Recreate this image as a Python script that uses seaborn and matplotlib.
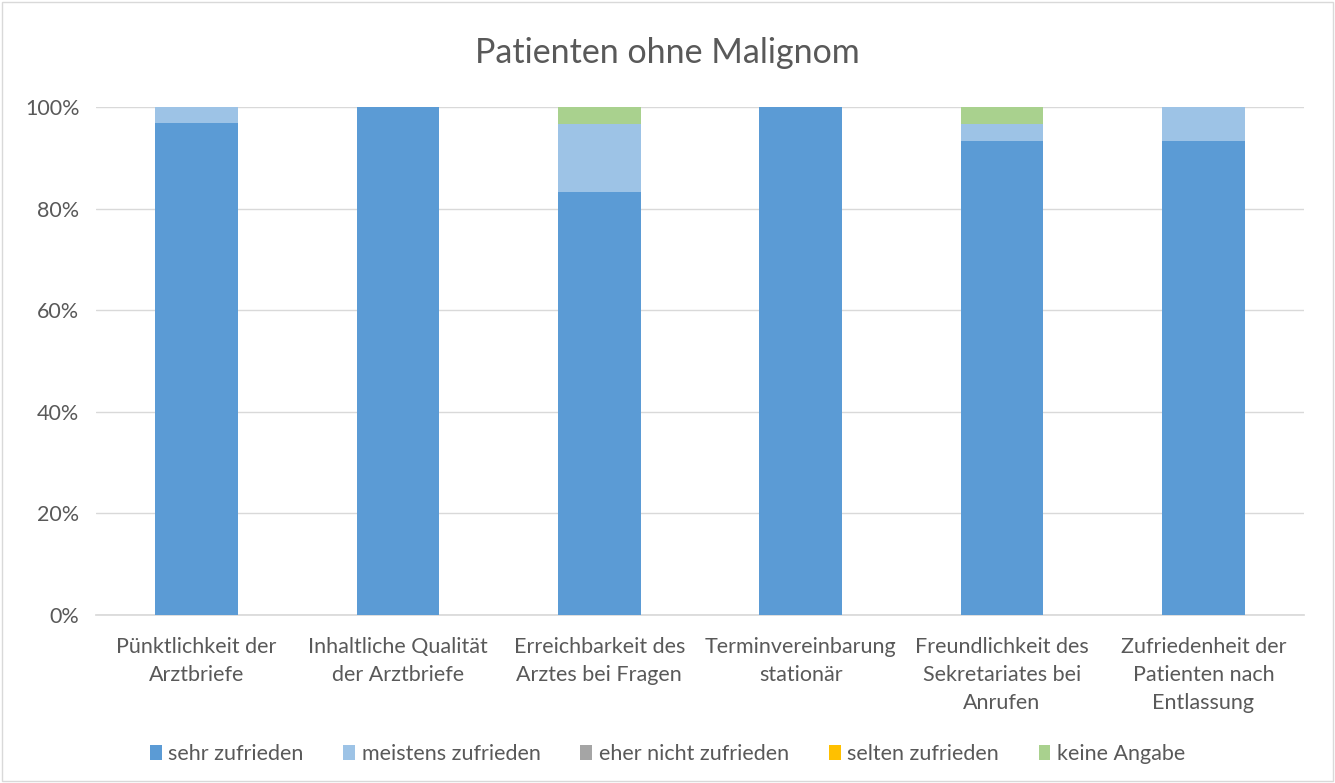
import numpy as np
import pandas as pd
import seaborn as sns
import matplotlib.pyplot as plt
from matplotlib.patches import Patch, Rectangle

categories = [
    "Pünktlichkeit der\nArztbriefe",
    "Inhaltliche Qualität\nder Arztbriefe",
    "Erreichbarkeit des\nArztes bei Fragen",
    "Terminvereinbarung\nstationär",
    "Freundlichkeit des\nSekretariates bei\nAnrufen",
    "Zufriedenheit der\nPatienten nach\nEntlassung",
]
series_names = ["sehr zufrieden", "meistens zufrieden", "eher nicht zufrieden",
                "selten zufrieden", "keine Angabe"]
sehr = [96.8, 100.0, 83.3, 100.0, 93.3, 93.3]
meistens = [3.2, 0.0, 13.4, 0.0, 3.4, 6.7]
eher_nicht = [0.0, 0.0, 0.0, 0.0, 0.0, 0.0]
selten = [0.0, 0.0, 0.0, 0.0, 0.0, 0.0]
keine = [0.0, 0.0, 3.3, 0.0, 3.3, 0.0]
colors = ["#5B9BD5", "#9DC3E6", "#A5A5A5", "#FFC000", "#A9D18E"]

sns.set_theme(style="white")
plt.rcParams['font.family'] = ['Lato', 'DejaVu Sans']
text_color = "#595959"

fig = plt.figure(figsize=(13.35, 7.83), dpi=100)
ax = fig.add_axes([96/1335, 1-615/783, (1304-96)/1335, (615-107)/783])

values = np.array([sehr, meistens, eher_nicht, selten, keine])
cum = np.cumsum(values, axis=0)

# draw cumulative totals from top down so each layer covers the next
for i in range(len(series_names) - 1, -1, -1):
    df = pd.DataFrame({"cat": categories, "val": cum[i]})
    sns.barplot(data=df, x="cat", y="val", order=categories, color=colors[i],
                saturation=1, width=0.41, linewidth=0, ax=ax, zorder=3)

ax.set_ylim(0, 100)
ax.set_xlim(-0.5, len(categories) - 0.5)
ax.set_yticks([0, 20, 40, 60, 80, 100])
ax.set_yticklabels([f"{v}%" for v in [0, 20, 40, 60, 80, 100]])
ax.grid(axis="y", color="#D9D9D9", linewidth=1, zorder=0)
ax.set_axisbelow(True)
for s in ["top", "right", "left"]:
    ax.spines[s].set_visible(False)
ax.spines["bottom"].set_color("#D9D9D9")
ax.set_xlabel("")
ax.set_ylabel("")
ax.tick_params(axis="y", length=0, pad=12, labelsize=15.5, labelcolor=text_color)
ax.tick_params(axis="x", length=0, pad=15.5, labelsize=15.5, labelcolor=text_color)
for lab in ax.get_xticklabels():
    lab.set_linespacing(1.5)
    lab.set_verticalalignment("top")

fig.text(0.5, 1 - 53/783, "Patienten ohne Malignom", ha="center", va="center",
         fontsize=24.5, color=text_color)

handles = [Patch(facecolor=c, edgecolor="none") for c in colors]
fig.legend(handles, series_names, loc="center", bbox_to_anchor=(0.5, 1 - 754/783),
           ncol=5, frameon=False, fontsize=15.5, labelcolor=text_color,
           handlelength=0.55, handleheight=0.7, handletextpad=0.3, columnspacing=1.85)

fig.patches.append(Rectangle((2/1335, 2/783), 1 - 4/1335, 1 - 4/783,
                             transform=fig.transFigure, fill=False,
                             edgecolor="#D9D9D9", linewidth=1))

fig.savefig("out.png", dpi=100)
